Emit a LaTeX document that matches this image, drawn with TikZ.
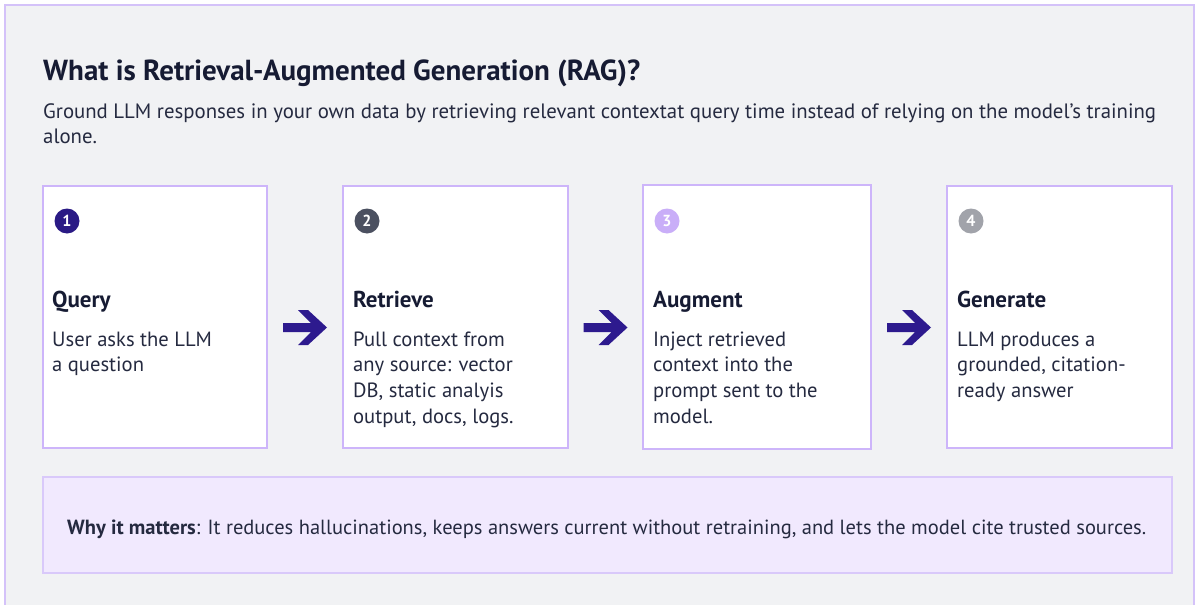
\documentclass[tikz,border=0pt]{standalone}
\usepackage{fontspec}
\setmainfont{PT Sans}
\usetikzlibrary{calc}
\definecolor{bgc}{HTML}{F1F2F4}
\definecolor{framec}{HTML}{D4C2F9}
\definecolor{cardc}{HTML}{CDB5FA}
\definecolor{whyfill}{HTML}{F1E9FE}
\definecolor{whyline}{HTML}{D9C9FA}
\definecolor{arrowc}{HTML}{2D1A8E}
\definecolor{numa}{HTML}{2A1A85}
\definecolor{numb}{HTML}{4B5060}
\definecolor{numc}{HTML}{C9AEF8}
\definecolor{numd}{HTML}{A1A3AA}
\definecolor{textc}{HTML}{161B33}
\definecolor{bodyc}{HTML}{252A40}
\newcommand\mylines[1]{\vtop{\halign{##\hfil\cr#1\crcr}}}
\tikzset{
  card/.style={draw=cardc, line width=2pt, fill=white, inner sep=0pt},
  numdot/.style={circle, inner sep=0pt, minimum size=25pt, text=white, font=\fontsize{16}{16}\selectfont\bfseries},
  headt/.style={anchor=base west, inner sep=0pt, text=textc, font=\fontsize{23}{25}\selectfont\bfseries},
  bodyt/.style={anchor=base west, inner sep=0pt, text=bodyc, font=\fontsize{20.6}{25.7}\selectfont},
  rarrow/.pic={\fill[arrowc] (-22,-4.5) -- (6,-4.5) -- (-7,-17.5) -- (3,-17.5) -- (22,0) -- (3,17.5) -- (-7,17.5) -- (6,4.5) -- (-22,4.5) -- cycle;}
}
\begin{document}
\begin{tikzpicture}[x=1pt,y=-1pt]
\useasboundingbox (0,0) rectangle (1200,605);
\clip (0,0) rectangle (1200,605);
\fill[white] (0,0) rectangle (1200,605);
\draw[draw=framec, line width=2pt, fill=bgc] (5,5) rectangle (1194,640);

\node[anchor=base west, inner sep=0pt, text=textc, font=\fontsize{29}{32}\selectfont\bfseries] (title) at (43,80) {What is Retrieval-Augmented Generation (RAG)?};
\node[anchor=base west, inner sep=0pt, text=bodyc, font=\fontsize{20.8}{25.5}\selectfont] (sub) at (43,118) {\mylines{Ground LLM responses in your own data by retrieving relevant contextat query time instead of relying on the model’s training\cr alone.}};

\node[card, minimum width=224pt, minimum height=262pt] (b1) at (155,317) {};
\node[card, minimum width=225pt, minimum height=262pt] (b2) at (455.5,317) {};
\node[card, minimum width=228pt, minimum height=264pt] (b3) at (757,317) {};
\node[card, minimum width=225pt, minimum height=262pt] (b4) at (1059.5,317) {};

\node[numdot, fill=numa] (n1) at (67,221) {1};
\node[numdot, fill=numb] (n2) at (367,221) {2};
\node[numdot, fill=numc] (n3) at (667,221) {3};
\node[numdot, fill=numd] (n4) at (971,221) {4};

\node[headt] (h1) at (52,307) {Query};
\node[headt] (h2) at (353,307) {Retrieve};
\node[headt] (h3) at (653,307) {Augment};
\node[headt] (h4) at (957,307) {Generate};

\node[bodyt] (t1) at (52,346) {\mylines{User asks the LLM\cr a question}};
\node[bodyt] (t2) at (353,346) {\mylines{Pull context from\cr any source: vector\cr DB, static analyis\cr output, docs, logs.}};
\node[bodyt] (t3) at (653,346) {\mylines{Inject retrieved\cr context into the\cr prompt sent to the\cr model.}};
\node[bodyt] (t4) at (957,346) {\mylines{LLM produces a\cr grounded, citation-\cr ready answer}};

\coordinate (a1) at ($(b1.east)!0.5!(b2.west)+(0,10.5)$);
\coordinate (a2) at ($(b2.east)!0.5!(b3.west)+(0,10.5)$);
\coordinate (a3) at ($(b3.east)!0.5!(b4.west)+(0,10.5)$);
\pic at (a1) {rarrow};
\pic at (a2) {rarrow};
\pic at (a3) {rarrow};

\node[draw=whyline, line width=2pt, fill=whyfill, minimum width=1129pt, minimum height=96pt, inner sep=0pt] (why) at (607.5,525) {};
\node[anchor=base west, inner sep=0pt, text=bodyc, font=\fontsize{20.5}{23}\selectfont] (whyt) at (67,534) {\textbf{Why it matters}: It reduces hallucinations, keeps answers current without retraining, and lets the model cite trusted sources.};
\end{tikzpicture}
\end{document}
